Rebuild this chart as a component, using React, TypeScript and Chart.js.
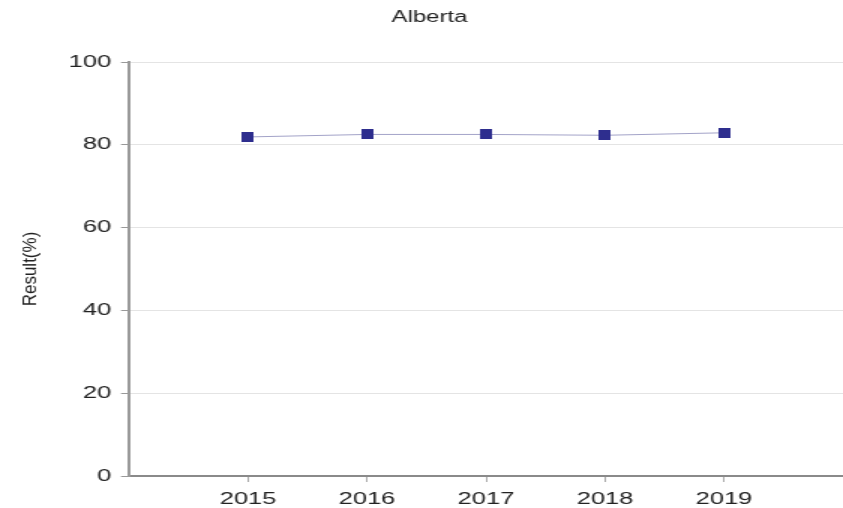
import React, { useEffect, useRef } from "react";
import { Chart, registerables } from "chart.js";

Chart.register(...registerables);

const years: number[] = [2015, 2016, 2017, 2018, 2019];
const results: number[] = [81.9, 82.5, 82.5, 82.3, 82.9];
const yTicks: number[] = [0, 20, 40, 60, 80, 100];
const chartTitle = "Alberta";
const yTitle = "Result(%)";

const STRETCH = 1.5;
const W = 843;
const H = 508;

export default function App() {
  const ref = useRef<HTMLCanvasElement | null>(null);
  useEffect(() => {
    if (!ref.current) return;
    const font = "'Liberation Sans', Arial, sans-serif";
    const marker = document.createElement("canvas");
    marker.width = 8;
    marker.height = 10;
    const mctx = marker.getContext("2d");
    if (mctx) {
      mctx.fillStyle = "#2e2e8e";
      mctx.fillRect(0, 0, 8, 10);
    }
    const textPlugin = {
      id: "textPlugin",
      afterDraw(chart: any) {
        const ctx = chart.ctx;
        const area = chart.chartArea;
        ctx.save();
        ctx.font = `16px ${font}`;
        ctx.fillStyle = "#222";
        ctx.textAlign = "center";
        ctx.textBaseline = "middle";
        ctx.fillText(chartTitle, chart.width / 2 + 8 / STRETCH, 18);
        ctx.restore();
        ctx.save();
        ctx.translate(31 / STRETCH, (area.top + area.bottom) / 2);
        ctx.scale(1 / 1.3, 1);
        ctx.rotate(-Math.PI / 2);
        ctx.font = `17px ${font}`;
        ctx.fillStyle = "#222";
        ctx.textAlign = "center";
        ctx.textBaseline = "middle";
        ctx.fillText(yTitle, 0, 0);
        ctx.restore();
      },
    };
    const chart = new Chart(ref.current, {
      type: "line",
      data: {
        datasets: [
          {
            label: chartTitle,
            data: years.map((y, i) => ({ x: y, y: results[i] })),
            borderColor: "#a3a3c8",
            borderWidth: 1,
            backgroundColor: "#2e2e8e",
            pointStyle: marker as any,
            pointRadius: 5,
            tension: 0,
          },
        ],
      },
      plugins: [textPlugin],
      options: {
        animation: false,
        responsive: false,
        maintainAspectRatio: false,
        devicePixelRatio: 1,
        layout: { autoPadding: false, padding: { left: 0, right: 0, top: 62, bottom: 0 } },
        plugins: {
          legend: { display: false },
          tooltip: { enabled: false },
          title: { display: false },
        },
        scales: {
          x: {
            type: "linear",
            min: 2014,
            max: 2020,
            afterBuildTicks: (scale: any) => {
              scale.ticks = years.map((v) => ({ value: v }));
            },
            afterFit: (scale: any) => {
              scale.height = H - 476;
              scale.paddingRight = 0;
              scale.paddingLeft = 0;
            },
            ticks: {
              callback: (v: any) => String(v),
              color: "#222",
              font: { family: font, size: 17 },
              padding: 7,
              maxRotation: 0,
            },
            grid: {
              drawOnChartArea: false,
              drawTicks: true,
              tickLength: 6,
              color: "#aaa",
            },
            border: { display: true, color: "#8a8a8a", width: 2 },
          },
          y: {
            min: 0,
            max: 100,
            afterBuildTicks: (scale: any) => {
              scale.ticks = yTicks.map((v) => ({ value: v }));
            },
            afterFit: (scale: any) => {
              scale.width = 129 / STRETCH;
              scale.paddingTop = 0;
              scale.paddingBottom = 0;
            },
            ticks: {
              color: "#222",
              font: { family: font, size: 17 },
              padding: 6.5,
            },
            grid: {
              color: "#e4e4e4",
              lineWidth: 1,
              drawTicks: true,
              tickLength: 5.3,
              tickColor: "#999",
            },
            border: { display: true, color: "#9a9a9a", width: 2 },
            title: { display: false },
          },
        },
      },
    });
    return () => chart.destroy();
  }, []);
  const cw = Math.round(W / STRETCH);
  return (
    <div style={{ position: "fixed", left: 0, top: 0, width: W, height: H, background: "#fff", overflow: "hidden" }}>
      <canvas
        ref={ref}
        width={cw}
        height={H}
        style={{
          width: cw + "px",
          height: H + "px",
          display: "block",
          transform: `scaleX(${W / cw})`,
          transformOrigin: "0 0",
        }}
      />
    </div>
  );
}
